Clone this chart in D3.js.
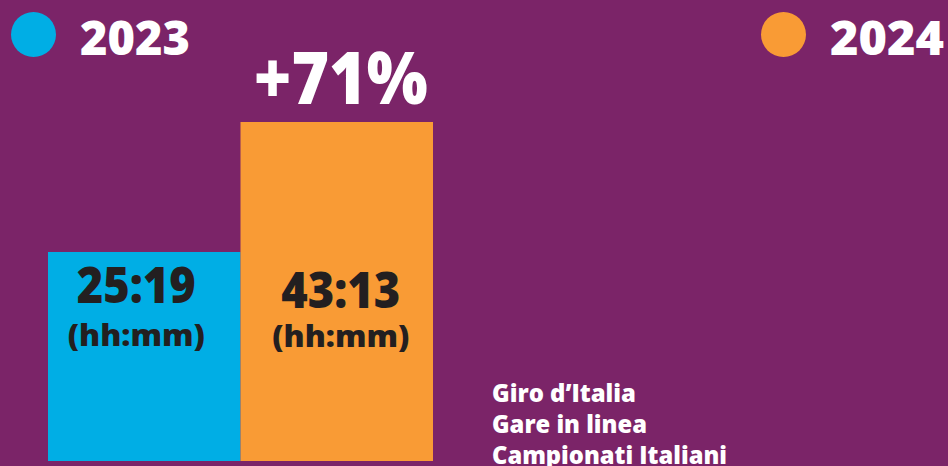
<!DOCTYPE html>
<html><head><meta charset="utf-8">
<script src="https://cdn.jsdelivr.net/npm/d3@7"></script>
<style>html,body{margin:0;padding:0;background:#7B2468;overflow:hidden}svg{display:block}</style>
</head><body>
<script>
const years = ["2023", "2024"];
const minutes = [1519, 2593];           // 25:19 and 43:13 in minutes
const timeLabels = ["25:19", "43:13"];
const unitLabel = "(hh:mm)";
const changeLabel = "+71%";
const colors = ["#00AEE5", "#F99B35"];
const notes = ["Giro d\u2019Italia", "Gare in linea", "Campionati Italiani"];

const W = 948, H = 466;
const svg = d3.select("body").append("svg").attr("width", W).attr("height", H);
svg.append("rect").attr("width", W).attr("height", H).attr("fill", "#7B2468");

const font = "'Open Sans', sans-serif";
const x = d3.scaleBand().domain(years).range([48, 433]).padding(0);
const y = d3.scaleLinear().domain([-208, 2593]).range([461, 122]);

// bars
svg.selectAll("rect.bar").data(years).join("rect").attr("class", "bar")
  .attr("x", d => x(d)).attr("width", x.bandwidth())
  .attr("y", (d, i) => y(minutes[i]))
  .attr("height", (d, i) => y(-208) - y(minutes[i]))
  .attr("fill", (d, i) => colors[i]);

// value labels
const dxs = [-8, 4];
const lbl = svg.selectAll("g.lbl").data(years).join("g").attr("class", "lbl")
  .attr("transform", (d, i) => `translate(${x(d) + x.bandwidth() / 2 + dxs[i]},0)`);
lbl.append("text").attr("y", (d, i) => [303, 308][i]).attr("text-anchor", "middle")
  .attr("font-family", font).attr("font-weight", 800).attr("font-size", 50)
  .attr("fill", "#231F20").attr("textLength", 119).attr("lengthAdjust", "spacingAndGlyphs")
  .text((d, i) => timeLabels[i]);
lbl.append("text").attr("y", (d, i) => [346, 347][i]).attr("text-anchor", "middle")
  .attr("font-family", font).attr("font-weight", 800).attr("font-size", 30)
  .attr("fill", "#231F20").attr("textLength", 137).attr("lengthAdjust", "spacingAndGlyphs")
  .text(unitLabel);

// change label
svg.append("text").attr("x", x("2024") + x.bandwidth() / 2 + 4).attr("y", 104)
  .attr("text-anchor", "middle").attr("font-family", font).attr("font-weight", 800)
  .attr("font-size", 72).attr("fill", "#fff")
  .attr("textLength", 174).attr("lengthAdjust", "spacingAndGlyphs").text(changeLabel);

// legend
const legX = [33.5, 783.5];
const lg = svg.selectAll("g.leg").data(years).join("g").attr("class", "leg")
  .attr("transform", (d, i) => `translate(${legX[i]},34.5)`);
lg.append("circle").attr("r", 22.5).attr("fill", (d, i) => colors[i]);
lg.append("text").attr("x", 46.5).attr("y", 20.5)
  .attr("font-family", font).attr("font-weight", 800).attr("font-size", 47)
  .attr("fill", "#fff").attr("textLength", (d, i) => [110, 114][i])
  .attr("lengthAdjust", "spacingAndGlyphs").text(d => d);

// notes
const noteW = [144, 155, 235];
svg.selectAll("text.note").data(notes).join("text").attr("class", "note")
  .attr("x", 492).attr("y", (d, i) => 402 + i * 31)
  .attr("font-family", font).attr("font-weight", 800).attr("font-size", 25)
  .attr("fill", "#fff").attr("textLength", (d, i) => noteW[i])
  .attr("lengthAdjust", "spacingAndGlyphs").text(d => d);
</script>
</body></html>
